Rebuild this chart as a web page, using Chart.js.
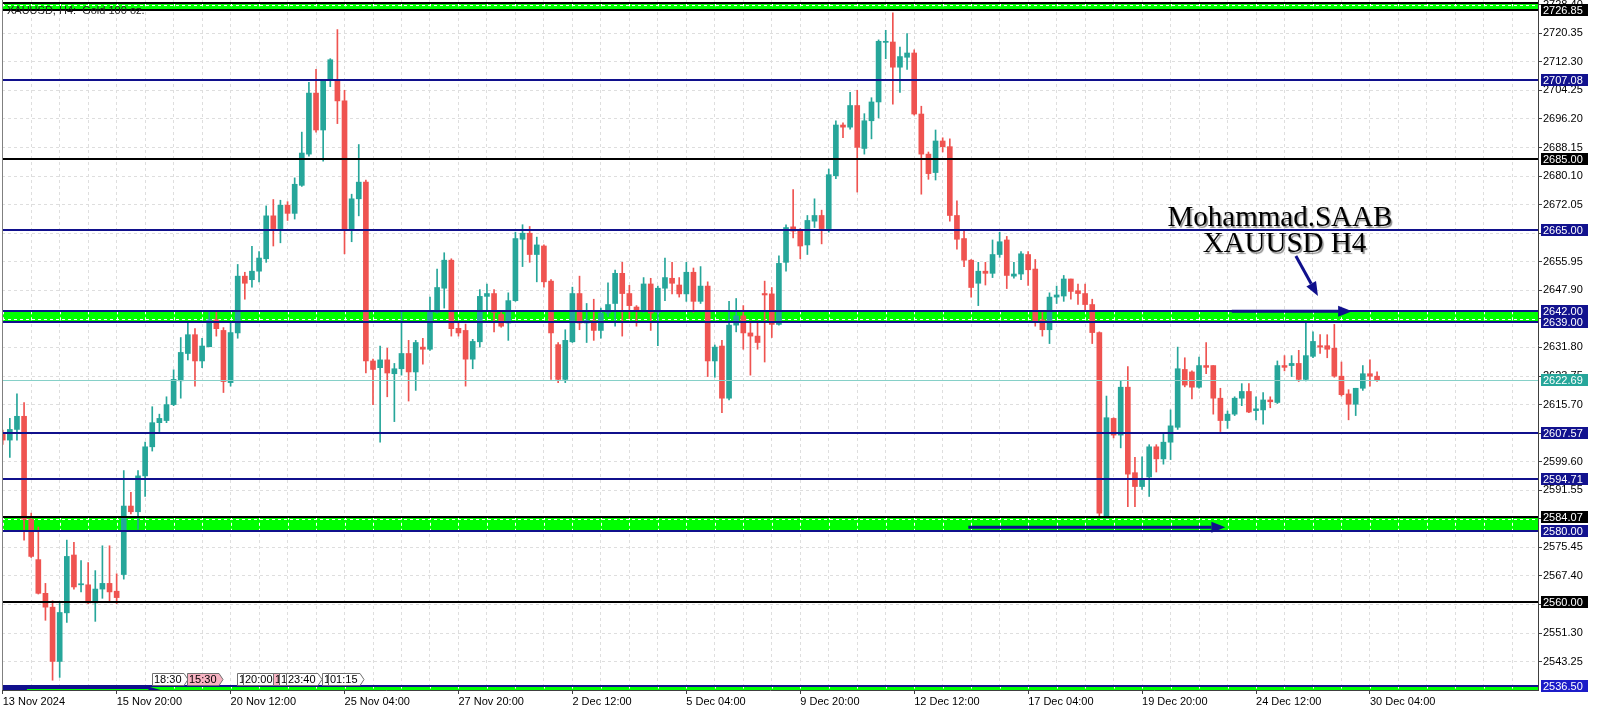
<!DOCTYPE html>
<html>
<head>
<meta charset="utf-8">
<title>XAUUSD H4</title>
<script src="https://cdn.jsdelivr.net/npm/chart.js@4.4.1/dist/chart.umd.min.js"></script>
<style>
html, body { margin: 0; padding: 0; background: #ffffff; }
</style>
</head>
<body>
<canvas id="myChart" width="1600" height="711"></canvas>
<script>
window.onload = init;

/* H4 candles, 13 Nov 2024 -> 30 Dec 2024 */
var opens = [
2607.8,2605.7,2608.7,2612.4,2583.4,2572.0,2562.5,2558.6,2543.3,2557.0,
2573.3,2564.9,2564.9,2559.8,2563.7,2565.3,2563.1,2567.8,2587.1,2585.5,
2595.6,2603.8,2610.6,2611.2,2615.7,2622.4,2630.1,2635.4,2628.0,2632.0,
2639.6,2636.6,2621.9,2635.9,2651.9,2650.9,2653.3,2656.8,2668.9,2665.3,
2671.9,2669.6,2677.5,2686.3,2703.5,2693.1,2707.1,2707.1,2701.3,2664.9,
2673.7,2678.4,2628.0,2626.1,2628.3,2624.4,2625.8,2630.1,2624.9,2631.9,
2631.3,2641.7,2648.5,2656.4,2637.2,2636.6,2628.5,2633.4,2646.2,2647.0,
2641.1,2638.7,2645.0,2662.3,2664.0,2658.0,2660.4,2650.5,2632.6,2622.8,
2633.4,2647.0,2638.7,2639.3,2636.6,2641.5,2644.2,2652.7,2647.0,2643.2,
2642.0,2649.7,2641.7,2648.5,2651.3,2649.4,2646.9,2653.0,2644.8,2649.1,
2628.0,2632.2,2617.5,2638.1,2640.7,2635.9,2635.0,2647.0,2646.9,2638.3,
2655.8,2665.8,2664.6,2660.7,2667.4,2669.0,2665.3,2680.2,2694.5,2693.9,
2700.0,2687.9,2695.7,2701.0,2717.8,2717.9,2710.8,2713.6,2714.8,2697.6,
2686.3,2681.1,2690.0,2688.4,2669.0,2662.5,2656.4,2649.9,2653.3,2652.7,
2658.0,2662.1,2651.9,2652.5,2658.0,2653.9,2639.6,2636.8,2646.0,2646.3,
2651.1,2647.8,2647.0,2643.9,2636.0,2583.7,2611.8,2607.1,2620.6,2596.5,
2592.6,2595.3,2603.8,2600.4,2605.1,2609.3,2625.6,2624.9,2620.6,2626.7,
2626.7,2617.5,2611.2,2613.0,2617.5,2619.4,2614.0,2614.2,2617.0,2616.3,
2626.7,2626.7,2627.3,2622.8,2629.3,2632.3,2632.3,2631.6,2623.7,2618.7,
2615.8,2620.3,2624.4,2623.7
];
var highs = [
2608.5,2611.8,2618.7,2616.3,2585.1,2581.2,2565.3,2560.4,2559.8,2577.5,
2576.9,2571.7,2571.2,2568.9,2575.9,2575.9,2568.0,2597.1,2591.0,2597.1,
2605.1,2615.1,2613.0,2617.9,2625.5,2634.6,2638.7,2637.1,2634.4,2642.0,
2642.0,2637.4,2638.7,2655.2,2653.0,2660.3,2658.8,2671.7,2673.5,2673.3,
2672.9,2679.6,2692.5,2706.5,2710.2,2707.1,2713.2,2721.4,2704.3,2675.0,
2689.0,2679.0,2628.5,2632.2,2631.6,2627.3,2641.7,2633.8,2633.8,2634.4,
2646.0,2653.9,2658.5,2656.8,2638.7,2638.4,2634.1,2648.1,2649.7,2648.1,
2641.7,2647.2,2664.3,2666.4,2665.9,2662.9,2660.7,2650.9,2633.2,2636.8,
2648.8,2651.9,2644.2,2645.4,2642.9,2650.0,2653.6,2655.8,2649.3,2643.6,
2651.5,2651.3,2649.1,2657.0,2655.8,2651.5,2655.8,2654.2,2654.6,2650.3,
2632.5,2633.8,2644.8,2645.6,2643.6,2639.3,2639.3,2650.5,2648.7,2657.6,
2666.4,2676.3,2665.3,2669.0,2673.7,2670.5,2682.1,2695.7,2695.1,2703.7,
2704.3,2697.7,2702.2,2718.5,2721.2,2726.1,2716.5,2720.3,2715.7,2699.8,
2686.9,2693.1,2690.9,2690.6,2673.1,2664.6,2656.6,2655.8,2655.8,2662.1,
2664.3,2663.1,2655.8,2658.8,2658.8,2656.6,2641.7,2647.2,2649.1,2652.1,
2651.1,2649.7,2649.7,2645.4,2636.2,2618.1,2612.0,2622.5,2626.4,2600.8,
2601.0,2604.4,2604.4,2607.5,2614.2,2631.9,2628.9,2625.2,2629.1,2633.2,
2626.7,2620.3,2613.9,2617.9,2621.6,2621.6,2617.9,2619.1,2617.9,2628.0,
2629.5,2629.5,2631.0,2639.0,2636.2,2635.4,2635.4,2638.3,2627.7,2619.9,
2620.3,2626.7,2628.3,2624.9
];
var lows = [
2604.5,2600.8,2605.7,2577.5,2572.6,2562.3,2554.9,2538.0,2538.8,2554.3,
2563.7,2562.9,2559.6,2554.6,2561.1,2560.4,2559.6,2566.5,2584.9,2580.6,
2589.8,2602.6,2608.1,2610.6,2615.4,2617.5,2628.3,2620.9,2626.1,2632.0,
2635.0,2619.1,2620.9,2634.4,2645.4,2648.8,2650.3,2655.8,2660.4,2661.3,
2667.6,2668.0,2677.2,2685.7,2692.5,2684.3,2705.3,2694.9,2658.2,2661.6,
2668.9,2624.6,2615.7,2605.1,2617.9,2610.9,2624.0,2616.7,2619.7,2627.1,
2631.0,2641.5,2642.9,2635.0,2635.0,2620.9,2625.8,2631.9,2642.3,2636.2,
2637.5,2633.8,2644.8,2654.6,2655.8,2650.3,2648.8,2622.8,2621.9,2621.9,
2633.2,2636.8,2633.2,2633.8,2634.4,2640.5,2637.8,2635.0,2639.9,2637.8,
2641.7,2636.6,2632.3,2645.0,2646.9,2646.0,2644.8,2641.7,2644.2,2623.6,
2623.4,2613.4,2617.0,2636.2,2631.3,2624.0,2631.3,2627.7,2634.6,2638.1,
2653.3,2662.7,2656.8,2658.0,2665.6,2661.0,2664.3,2679.4,2690.9,2693.3,
2675.6,2686.3,2690.6,2696.5,2713.2,2700.4,2703.7,2710.2,2697.3,2675.0,
2679.2,2679.0,2686.9,2667.4,2659.5,2654.6,2646.0,2643.6,2649.4,2651.5,
2657.2,2648.4,2651.3,2650.9,2649.3,2637.8,2635.0,2632.9,2644.2,2644.8,
2645.4,2643.9,2642.0,2632.9,2584.3,2583.7,2606.3,2603.5,2586.9,2586.9,
2591.8,2589.8,2596.7,2598.9,2600.2,2608.7,2620.7,2617.3,2620.3,2624.4,
2613.0,2608.1,2609.0,2612.6,2615.4,2613.4,2611.4,2610.2,2614.8,2616.0,
2625.2,2623.6,2622.2,2622.4,2628.9,2630.1,2628.9,2623.4,2618.1,2611.4,
2612.6,2619.7,2620.9,2622.2
];
var closes = [
2605.7,2608.7,2612.4,2583.4,2572.9,2562.5,2558.6,2543.3,2557.1,2572.9,
2564.3,2565.2,2559.8,2563.7,2565.3,2562.9,2561.3,2587.1,2585.5,2595.6,
2603.8,2610.6,2611.8,2615.7,2622.8,2630.4,2635.4,2628.0,2632.2,2639.6,
2637.1,2622.2,2636.0,2651.9,2649.9,2653.3,2657.0,2668.9,2665.3,2671.9,
2669.6,2677.8,2686.6,2703.5,2693.1,2707.1,2712.9,2701.3,2664.9,2673.7,
2678.4,2628.0,2625.6,2628.3,2624.6,2625.8,2630.1,2624.9,2633.2,2631.3,
2642.0,2648.7,2656.4,2637.1,2635.9,2628.5,2633.5,2646.2,2647.0,2641.7,
2637.8,2645.0,2662.5,2664.0,2658.0,2660.7,2650.3,2635.9,2622.8,2633.8,
2647.0,2638.7,2639.5,2636.6,2641.5,2643.9,2652.7,2647.0,2643.6,2642.3,
2649.7,2641.5,2648.5,2651.5,2649.9,2646.9,2653.0,2644.8,2649.1,2628.0,
2631.9,2617.5,2638.1,2640.7,2635.9,2635.0,2633.2,2646.6,2638.3,2655.5,
2665.6,2664.6,2660.4,2667.6,2669.0,2665.3,2680.5,2694.5,2693.9,2700.0,
2688.2,2695.7,2701.0,2718.1,2718.1,2710.8,2713.8,2714.8,2697.6,2686.3,
2680.8,2690.0,2688.4,2669.0,2662.3,2656.4,2648.7,2653.3,2652.7,2658.0,
2661.6,2652.1,2652.5,2658.2,2653.7,2639.3,2636.8,2646.0,2646.6,2651.1,
2647.6,2647.0,2643.9,2636.0,2585.1,2612.0,2607.1,2620.6,2596.1,2592.6,
2594.9,2603.8,2600.4,2605.1,2609.7,2625.8,2621.2,2620.6,2626.7,2626.2,
2617.5,2611.2,2613.0,2617.5,2619.4,2613.6,2614.5,2617.0,2616.5,2626.7,
2626.2,2627.3,2622.8,2629.5,2633.5,2631.9,2631.3,2623.7,2618.5,2615.8,
2620.3,2624.4,2623.7,2622.69
];

/* time axis: one label every 16 bars */
var xTickLabels = ['13 Nov 2024', '15 Nov 20:00', '20 Nov 12:00', '25 Nov 04:00', '27 Nov 20:00',
    '2 Dec 12:00', '5 Dec 04:00', '9 Dec 20:00', '12 Dec 12:00', '17 Dec 04:00',
    '19 Dec 20:00', '24 Dec 12:00', '30 Dec 04:00'];
var yTickValues = [2728.40, 2720.35, 2712.30, 2704.25, 2696.20, 2688.15, 2680.10, 2672.05, 2664.00,
    2655.95, 2647.90, 2639.85, 2631.80, 2623.75, 2615.70, 2607.65, 2599.60, 2591.55, 2583.50,
    2575.45, 2567.40, 2559.35, 2551.30, 2543.25];

/* drawn levels */
var navyLevels = [2707.08, 2665.00, 2642.00, 2639.00, 2607.57, 2594.71, 2580.00, 2536.50];
var blackLevels = [2728.80, 2726.85, 2685.00, 2584.07, 2560.00];
var zoneLows = [2726.85, 2639.00, 2580.00, 2535.25];
var zoneHighs = [2728.80, 2642.00, 2584.07, 2536.50];
var lastPrice = 2622.69;
var blackTags = [2726.85, 2685.00, 2584.07, 2560.00];
var navyTags = [2707.08, 2665.00, 2642.00, 2639.00, 2607.57, 2594.71, 2580.00];
var blueTags = [2536.50];
var timeTags = ['18:30', '15:30', '1', '20:00', '1', '1', '23:40', '1', '01:15'];
var timeTagBars = [21.0, 25.9, 32.9, 33.8, 38.0, 38.8, 39.8, 44.8, 45.7];

var UP = '#26a69a';
var DOWN = '#ef5350';
var GRID = '#dedede';
var NAVY = '#10108c';
var chart;

/* annotations in bar / price units */
var arrows = [
    { from: [172.6, 2642.0], to: [189.5, 2642.0] },
    { from: [135.6, 2581.1], to: [171.7, 2581.1] },
    { from: [181.6, 2657.6], to: [184.7, 2646.3] }
];
var captions = [
    { text: 'Mohammad.SAAB', bar: 179.35, price: 2665.93 },
    { text: 'XAUUSD H4', bar: 180.0, price: 2658.6 }
];

function hLine(ctx, area, py, color, width) {
    ctx.strokeStyle = color;
    ctx.lineWidth = width;
    ctx.setLineDash([]);
    ctx.beginPath();
    ctx.moveTo(area.left, py);
    ctx.lineTo(area.right, py);
    ctx.stroke();
}

function drawArrow(ctx, x0, y0, x1, y1) {
    var ang = Math.atan2(y1 - y0, x1 - x0);
    var len = 14, half = 5.5;
    var bx = x1 - len * Math.cos(ang), by = y1 - len * Math.sin(ang);
    ctx.strokeStyle = NAVY;
    ctx.fillStyle = NAVY;
    ctx.lineWidth = 3;
    ctx.beginPath();
    ctx.moveTo(x0, y0);
    ctx.lineTo(bx, by);
    ctx.stroke();
    ctx.beginPath();
    ctx.moveTo(x1, y1);
    ctx.lineTo(bx + half * Math.sin(ang), by - half * Math.cos(ang));
    ctx.lineTo(bx - half * Math.sin(ang), by + half * Math.cos(ang));
    ctx.closePath();
    ctx.fill();
}

function drawTimeTag(ctx, x, top, text, fill) {
    ctx.font = '11px "Liberation Sans", Arial, sans-serif';
    var w = ctx.measureText(text).width + 4;
    ctx.beginPath();
    ctx.moveTo(x + 0.5, top + 0.5);
    ctx.lineTo(x + w + 0.5, top + 0.5);
    ctx.lineTo(x + w + 4.5, top + 6.5);
    ctx.lineTo(x + w + 0.5, top + 12.5);
    ctx.lineTo(x + 0.5, top + 12.5);
    ctx.closePath();
    ctx.fillStyle = fill;
    ctx.fill();
    ctx.strokeStyle = '#707070';
    ctx.lineWidth = 1;
    ctx.stroke();
    ctx.fillStyle = '#000';
    ctx.textBaseline = 'middle';
    ctx.textAlign = 'left';
    ctx.fillText(text, x + 2, top + 7);
}

function drawPriceTag(ctx, area, yScale, price, bg, fg) {
    var py = Math.round(yScale.getPixelForValue(price));
    ctx.fillStyle = bg;
    ctx.fillRect(area.right + 3, py - 6, 47, 12);
    ctx.fillStyle = fg;
    ctx.font = '11px "Liberation Sans", Arial, sans-serif';
    ctx.textBaseline = 'middle';
    ctx.textAlign = 'left';
    ctx.fillText(price.toFixed(2), area.right + 5, py + 0.5);
}

/* green zones sit behind the candles */
var zonePlugin = {
    id: 'zones',
    beforeDatasetsDraw: function (c) {
        var ctx = c.ctx, a = c.chartArea, xs = c.scales.x, ys = c.scales.y;
        ctx.save();
        ctx.beginPath();
        ctx.rect(a.left, a.top, a.right - a.left, a.bottom - a.top);
        ctx.clip();
        for (var i = 0; i < zoneLows.length; i++) {
            var top = ys.getPixelForValue(zoneHighs[i]);
            var bot = ys.getPixelForValue(zoneLows[i]);
            ctx.fillStyle = '#00ff00';
            ctx.fillRect(a.left, top, a.right - a.left, bot - top);
            ctx.save();
            ctx.beginPath();
            ctx.rect(a.left, top, a.right - a.left, bot - top);
            ctx.clip();
            ctx.strokeStyle = '#ffffff';
            ctx.lineWidth = 1;
            ctx.setLineDash([3, 3]);
            ys.ticks.forEach(function (t) {
                var py = Math.round(ys.getPixelForValue(t.value)) + 0.5;
                ctx.beginPath(); ctx.moveTo(a.left, py); ctx.lineTo(a.right, py); ctx.stroke();
            });
            xs.ticks.forEach(function (t) {
                var px = Math.round(xs.getPixelForValue(t.value)) + 0.5;
                ctx.beginPath(); ctx.moveTo(px, top); ctx.lineTo(px, bot); ctx.stroke();
            });
            ctx.restore();
        }
        ctx.restore();
    }
};

var overlayPlugin = {
    id: 'overlay',
    afterDatasetsDraw: function (c) {
        var ctx = c.ctx, a = c.chartArea, xs = c.scales.x, ys = c.scales.y;
        ctx.save();
        ctx.beginPath();
        ctx.rect(a.left, a.top, a.right - a.left, a.bottom - a.top);
        ctx.clip();

        navyLevels.forEach(function (p) { hLine(ctx, a, Math.round(ys.getPixelForValue(p)), NAVY, 2); });
        blackLevels.forEach(function (p) { hLine(ctx, a, Math.round(ys.getPixelForValue(p)), '#000000', 2); });
        hLine(ctx, a, Math.round(ys.getPixelForValue(lastPrice)) + 0.5, '#86d0c8', 1);

        // navy object at the bottom left
        var nTop = Math.round(ys.getPixelForValue(2536.50));
        var nEnd = xs.getPixelForValue(21.6);
        ctx.fillStyle = NAVY;
        ctx.beginPath();
        ctx.moveTo(a.left, nTop);
        ctx.lineTo(nEnd - 10, nTop);
        ctx.lineTo(nEnd + 4, a.bottom);
        ctx.lineTo(a.left, a.bottom);
        ctx.closePath();
        ctx.fill();
        ctx.strokeStyle = '#00ff00';
        ctx.lineWidth = 1;
        ctx.beginPath();
        ctx.moveTo(xs.getPixelForValue(3.4), nTop + 3.5);
        ctx.lineTo(nEnd - 8, nTop + 3.5);
        ctx.stroke();

        arrows.forEach(function (ar) {
            drawArrow(ctx, xs.getPixelForValue(ar.from[0]), ys.getPixelForValue(ar.from[1]),
                xs.getPixelForValue(ar.to[0]), ys.getPixelForValue(ar.to[1]));
        });

        ctx.font = '29px "Liberation Serif", "Times New Roman", serif';
        ctx.textAlign = 'center';
        ctx.textBaseline = 'alphabetic';
        captions.forEach(function (cp) {
            ctx.save();
            ctx.shadowColor = 'rgba(0,0,0,0.45)';
            ctx.shadowOffsetX = 1.5;
            ctx.shadowOffsetY = 1.5;
            ctx.shadowBlur = 1;
            ctx.fillStyle = '#000000';
            ctx.fillText(cp.text, xs.getPixelForValue(cp.bar), ys.getPixelForValue(cp.price));
            ctx.restore();
        });

        // symbol caption
        ctx.font = '11px "Liberation Sans", Arial, sans-serif';
        ctx.textAlign = 'left';
        ctx.fillStyle = '#222222';
        ctx.fillText('XAUUSD, H4:  Gold 100 oz.', a.left + 5, 14);

        // chart frame, left side
        ctx.strokeStyle = '#808080';
        ctx.lineWidth = 1;
        ctx.beginPath();
        ctx.moveTo(a.left + 0.5, a.top);
        ctx.lineTo(a.left + 0.5, a.bottom);
        ctx.stroke();

        for (var i = 0; i < timeTags.length; i++) {
            var pink = (i === 1 || i === 4);
            drawTimeTag(ctx, Math.round(xs.getPixelForValue(timeTagBars[i])), a.bottom - 17, timeTags[i], pink ? '#f7b3c2' : '#ffffff');
        }
        ctx.restore();
    },
    afterDraw: function (c) {
        var ctx = c.ctx, a = c.chartArea, ys = c.scales.y;
        ctx.save();
        blackTags.forEach(function (p) { drawPriceTag(ctx, a, ys, p, '#000000', '#ffffff'); });
        navyTags.forEach(function (p) { drawPriceTag(ctx, a, ys, p, '#12128e', '#ffffff'); });
        blueTags.forEach(function (p) { drawPriceTag(ctx, a, ys, p, '#1c1cc8', '#ffffff'); });
        drawPriceTag(ctx, a, ys, lastPrice, UP, '#ffffff');
        ctx.restore();
    }
};

function showChart() {
    var bars = opens.map(function (v, i) { return i; });
    var wickData = bars.map(function (i) { return { x: i, y: [lows[i], highs[i]] }; });
    var bodyData = bars.map(function (i) { return { x: i, y: [opens[i], closes[i]] }; });
    var colors = bars.map(function (i) { return closes[i] >= opens[i] ? UP : DOWN; });
    var gridBars = [];
    for (var g = 0; g <= 212; g += 4) gridBars.push(g);

    Chart.defaults.font.family = '"Liberation Sans", Arial, sans-serif';
    Chart.defaults.font.size = 11;

    var config = {
        type: 'bar',
        data: {
            datasets: [
                { label: 'body', data: bodyData, backgroundColor: colors, barThickness: 5,
                  grouped: false, minBarLength: 1, borderWidth: 0 },
                { label: 'wick', data: wickData, backgroundColor: colors, barThickness: 1,
                  grouped: false, borderWidth: 0 }
            ]
        },
        options: {
            responsive: false,
            animation: false,
            layout: { padding: { left: 2, top: 0, right: 0, bottom: 0 } },
            plugins: { legend: { display: false }, tooltip: { enabled: false } },
            scales: {
                x: {
                    type: 'linear',
                    min: -0.1,
                    max: 215.6,
                    offset: false,
                    afterBuildTicks: function (s) {
                        s.ticks = gridBars.map(function (v) { return { value: v }; });
                    },
                    afterFit: function (s) {
                        s.height = 21;
                        s.paddingLeft = 0;
                        s.paddingRight = 0;
                    },
                    grid: {
                        offset: false,
                        color: GRID,
                        lineWidth: 1,
                        tickLength: 4,
                        tickColor: function (ctx) {
                            var v = ctx.tick ? ctx.tick.value : -1;
                            return (v % 16 === 0 && v <= 192) ? '#404040' : 'rgba(0,0,0,0)';
                        }
                    },
                    border: { color: '#404040', dash: [3, 3] },
                    ticks: {
                        autoSkip: false,
                        maxRotation: 0,
                        align: 'start',
                        padding: 1,
                        color: '#000000',
                        callback: function (v) {
                            if (v % 16 !== 0) return '';
                            return xTickLabels[v / 16] || '';
                        }
                    }
                },
                y: {
                    type: 'linear',
                    position: 'right',
                    min: 2535.25,
                    max: 2729.74,
                    afterBuildTicks: function (s) {
                        s.ticks = yTickValues.map(function (v) { return { value: v }; });
                    },
                    afterFit: function (s) {
                        s.width = 62;
                        s.paddingTop = 0;
                        s.paddingBottom = 0;
                    },
                    grid: { color: GRID, lineWidth: 1, tickLength: 4, tickColor: '#404040' },
                    border: { color: '#404040', dash: [3, 3] },
                    ticks: {
                        padding: 1,
                        color: '#000000',
                        callback: function (v) { return v.toFixed(2); }
                    }
                }
            }
        },
        plugins: [zonePlugin, overlayPlugin]
    };
    chart = new Chart(document.getElementById('myChart'), config);
}

function init() {
    showChart();
}
</script>
</body>
</html>
